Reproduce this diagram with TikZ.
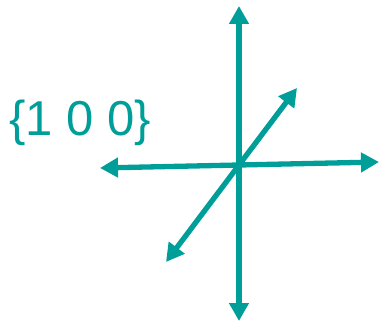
\documentclass[tikz,border=0pt]{standalone}
\usepackage{fontspec}
\setmainfont{Liberation Sans}
\usetikzlibrary{arrows.meta}
\definecolor{tealax}{RGB}{0,158,153}
\tikzset{axis/.style={draw=tealax, line width=5.3pt, -{Triangle[length=18pt,width=19pt]}},
  label/.style={text=tealax, font=\fontsize{49}{54}\selectfont, inner sep=0pt, anchor=west}}
\begin{document}
\begin{tikzpicture}[x=1pt,y=-1pt]
\useasboundingbox (0,0) rectangle (379,323);
\coordinate (c) at (239,165);
\coordinate (top) at (239,6);
\coordinate (bot) at (239,321);
\coordinate (lft) at (100,168);
\coordinate (rgt) at (379,162);
\coordinate (ll) at (166,262);
\coordinate (ur) at (297,88);
\draw[axis] (c) -- (top);
\draw[axis] (c) -- (bot);
\draw[axis] (c) -- (lft);
\draw[axis] (c) -- (rgt);
\draw[axis] (c) -- (ll);
\draw[axis] (c) -- (ur);
\node[label] (t) at (9,123) {\{1 0 0\}};
\end{tikzpicture}
\end{document}
